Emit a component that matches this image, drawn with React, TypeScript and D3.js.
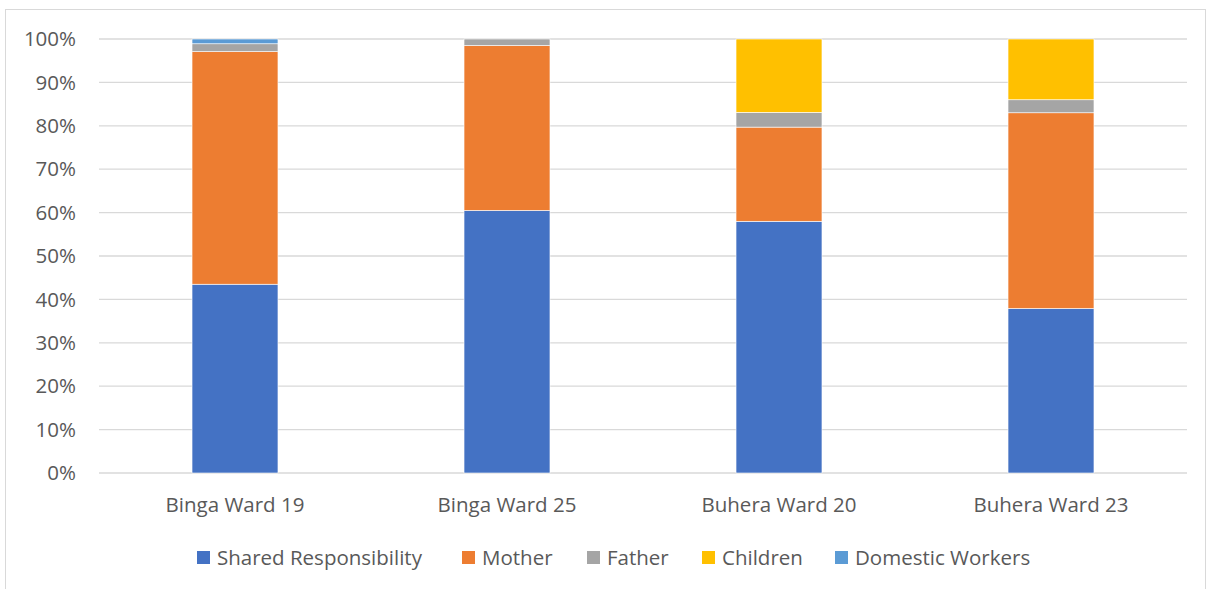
import React from "react";
import * as d3 from "d3";

const categories = ["Binga Ward 19", "Binga Ward 25", "Buhera Ward 20", "Buhera Ward 23"];
const seriesNames = ["Shared Responsibility", "Mother", "Father", "Children", "Domestic Workers"];
const sharedResponsibility = [43.5, 60.5, 58.0, 37.9];
const mother = [53.6, 38.0, 21.7, 45.1];
const father = [1.8, 1.5, 3.4, 3.0];
const children = [0, 0, 16.9, 14.0];
const domesticWorkers = [1.1, 0, 0, 0];
const yTicks = [0, 10, 20, 30, 40, 50, 60, 70, 80, 90, 100];
const colors = ["#4472C4", "#ED7D31", "#A5A5A5", "#FFC000", "#5B9BD5"];

const W = 1207, H = 589;
const FONT = "'Open Sans', sans-serif";
const FS = 20.5;

export default function App() {
  const series = [sharedResponsibility, mother, father, children, domesticWorkers];
  const rows = categories.map((c, i) => {
    const r: any = { cat: c };
    seriesNames.forEach((s, j) => (r[s] = series[j][i]));
    return r;
  });
  const stacked = d3.stack<any>().keys(seriesNames)(rows);
  const x = d3.scaleBand().domain(categories).range([99, 1187]).paddingInner(0.684).paddingOuter(0.342);
  const y = d3.scaleLinear().domain([0, 100]).range([473, 39]);

  const legendX = [197, 462, 587, 702, 835];

  return (
    <svg width={W} height={H} style={{ position: "absolute", left: 0, top: 0, background: "#fff" }} fontFamily={FONT}>
      <rect x={5.5} y={9.5} width={1200} height={620} fill="#fff" stroke="#D9D9D9" strokeWidth={1} />
      {yTicks.map((t) => (
        <g key={t}>
          <line x1={99} x2={1187} y1={y(t)} y2={y(t)} stroke="#D9D9D9" strokeWidth={1.3} />
          <text x={76} y={y(t)} dy="0.35em" textAnchor="end" fontSize={FS} fill="#595959">{t}%</text>
        </g>
      ))}
      {stacked.map((s, j) => (
        <g key={s.key} fill={colors[j]}>
          {s.map((d, i) =>
            d[1] - d[0] > 0 ? (
              <rect key={i} x={x(categories[i])!} width={x.bandwidth()} y={y(d[1])} height={y(d[0]) - y(d[1])} stroke="#fff" strokeWidth={0.6} />
            ) : null
          )}
        </g>
      ))}
      {categories.map((c) => (
        <text key={c} x={x(c)! + x.bandwidth() / 2} y={505} dy="0.35em" textAnchor="middle" fontSize={FS} fill="#595959">{c}</text>
      ))}
      {seriesNames.map((name, j) => (
        <g key={name}>
          <rect x={legendX[j]} y={551} width={13} height={13} fill={colors[j]} />
          <text x={legendX[j] + 20} y={557.5} dy="0.35em" fontSize={FS} fill="#595959">{name}</text>
        </g>
      ))}
    </svg>
  );
}
